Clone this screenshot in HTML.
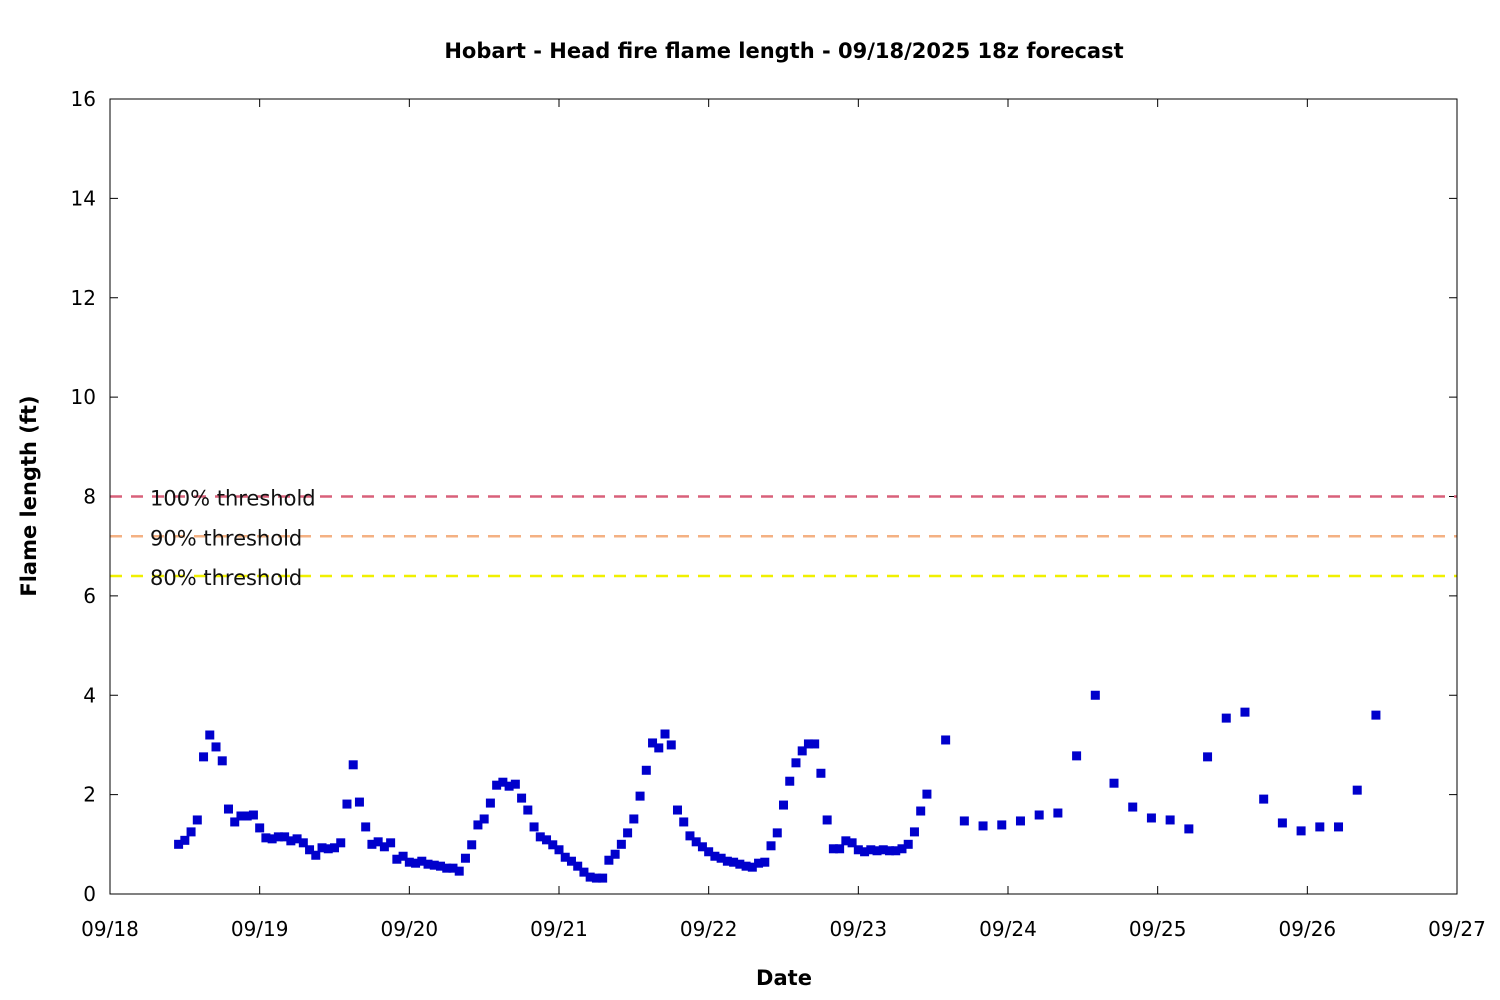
<!DOCTYPE html>
<html><head><meta charset="utf-8"><style>
body{margin:0;background:#fff}
svg{display:block;font-family:"DejaVu Sans","Liberation Sans",sans-serif}
</style></head><body>
<svg id="chart" width="1500" height="1000" viewBox="0 0 1500 1000">
<rect width="1500" height="1000" fill="#fff"/>
<text x="784" y="58" text-anchor="middle" font-size="21" font-weight="bold">Hobart - Head fire flame length - 09/18/2025 18z forecast</text>
<text transform="translate(36,496) rotate(-90)" text-anchor="middle" font-size="21" font-weight="bold">Flame length (ft)</text>
<text x="784" y="985" text-anchor="middle" font-size="21" font-weight="bold">Date</text>
<g id="grid"></g>
<g id="thr"></g>
<g id="pts"></g>
<rect x="110" y="99" width="1347" height="795" fill="none" stroke="#000" stroke-width="1"/>
</svg>
<script>
const yTicks=[0,2,4,6,8,10,12,14,16];
const xTickLabels=["09/18","09/19","09/20","09/21","09/22","09/23","09/24","09/25","09/26","09/27"];
const thresholdValues=[8,7.2,6.4];
const thresholdLabels=["100% threshold","90% threshold","80% threshold"];
const thresholdColors=["#d9607a","#f4b183","#f0f000"];
const hourlyStart=11;
const hourlyValues=[1.0,1.08,1.25,1.49,2.76,3.2,2.96,2.68,1.71,1.45,
1.57,1.57,1.59,1.33,1.13,1.11,1.15,1.15,1.07,1.11,
1.03,0.89,0.78,0.93,0.91,0.93,1.03,1.81,2.6,1.85,
1.35,1.0,1.05,0.95,1.03,0.7,0.76,0.64,0.62,0.66,
0.6,0.58,0.56,0.52,0.52,0.46,0.72,0.99,1.39,1.51,
1.83,2.19,2.25,2.17,2.21,1.93,1.69,1.35,1.15,1.09,
0.99,0.89,0.74,0.66,0.56,0.44,0.34,0.32,0.32,0.68,
0.8,1.0,1.23,1.51,1.97,2.49,3.04,2.94,3.22,3.0,
1.69,1.45,1.17,1.05,0.95,0.85,0.76,0.72,0.66,0.64,
0.6,0.56,0.54,0.62,0.64,0.97,1.23,1.79,2.27,2.64,
2.88,3.02,3.02,2.43,1.49,0.91,0.91,1.07,1.03,0.89,
0.85,0.89,0.87,0.89,0.87,0.87,0.91,1.0,1.25,1.67,2.01];
const threeHourlyStart=134;
const threeHourlyValues=[3.1,1.47,1.37,1.39,1.47,1.59,1.63,2.78,4.0,2.23,1.75,1.53,1.49,1.31,2.76,3.54,3.66,1.91,1.43,1.27,1.35,1.35,2.09,3.6];

const NS="http://www.w3.org/2000/svg";
const X0=110,X1=1457,Y0=894,Y1=99;
const xScale=h=>X0+(X1-X0)*h/(24*9);
const yScale=v=>Y0-(Y0-Y1)*v/16;
function mk(t,a,p){const e=document.createElementNS(NS,t);for(const k in a)e.setAttribute(k,a[k]);p.appendChild(e);return e;}
const grid=document.getElementById('grid');
yTicks.forEach(v=>{
  const y=yScale(v);
  const l=mk('line',{x1:X0,x2:X0+8,y1:y,y2:y,stroke:'#000'},grid);
  
  
  const r=mk('line',{x1:X1-8,x2:X1,y1:y,y2:y,stroke:'#000'},grid);
  
  
  const t=mk('text',{x:96,y:y+7,'text-anchor':'end','font-size':20},grid);
  
  
  t.textContent=v;
});
xTickLabels.forEach((s,i)=>{
  const x=xScale(i*24);
  const l=mk('line',{x1:x,x2:x,y1:Y0,y2:Y0-8,stroke:'#000'},grid);
  
  
  const u=mk('line',{x1:x,x2:x,y1:Y1,y2:Y1+8,stroke:'#000'},grid);
  
  
  const t=mk('text',{x:x,y:936,'text-anchor':'middle','font-size':20},grid);
  
  
  t.textContent=s;
});
const thr=document.getElementById('thr');
thresholdValues.forEach((v,i)=>{
  const y=yScale(v);
  const l=mk('line',{x1:X0,x2:X1,y1:y,y2:y,stroke:thresholdColors[i],'stroke-width':2.5,'stroke-dasharray':'12,9'},thr);
  
  
  const t=mk('text',{x:150,y:y+9,'font-size':21,fill:'#111'},thr);
  
  
  t.textContent=thresholdLabels[i];
});
const pts=document.getElementById('pts');
function dot(h,v){
  const r=mk('rect',{x:xScale(h)-4.5,y:yScale(v)-4.5,width:9,height:9,fill:'#0000cc'},pts);
  
  
}
hourlyValues.forEach((v,i)=>dot(hourlyStart+i,v));
threeHourlyValues.forEach((v,i)=>dot(threeHourlyStart+3*i,v));
</script>
</body></html>
